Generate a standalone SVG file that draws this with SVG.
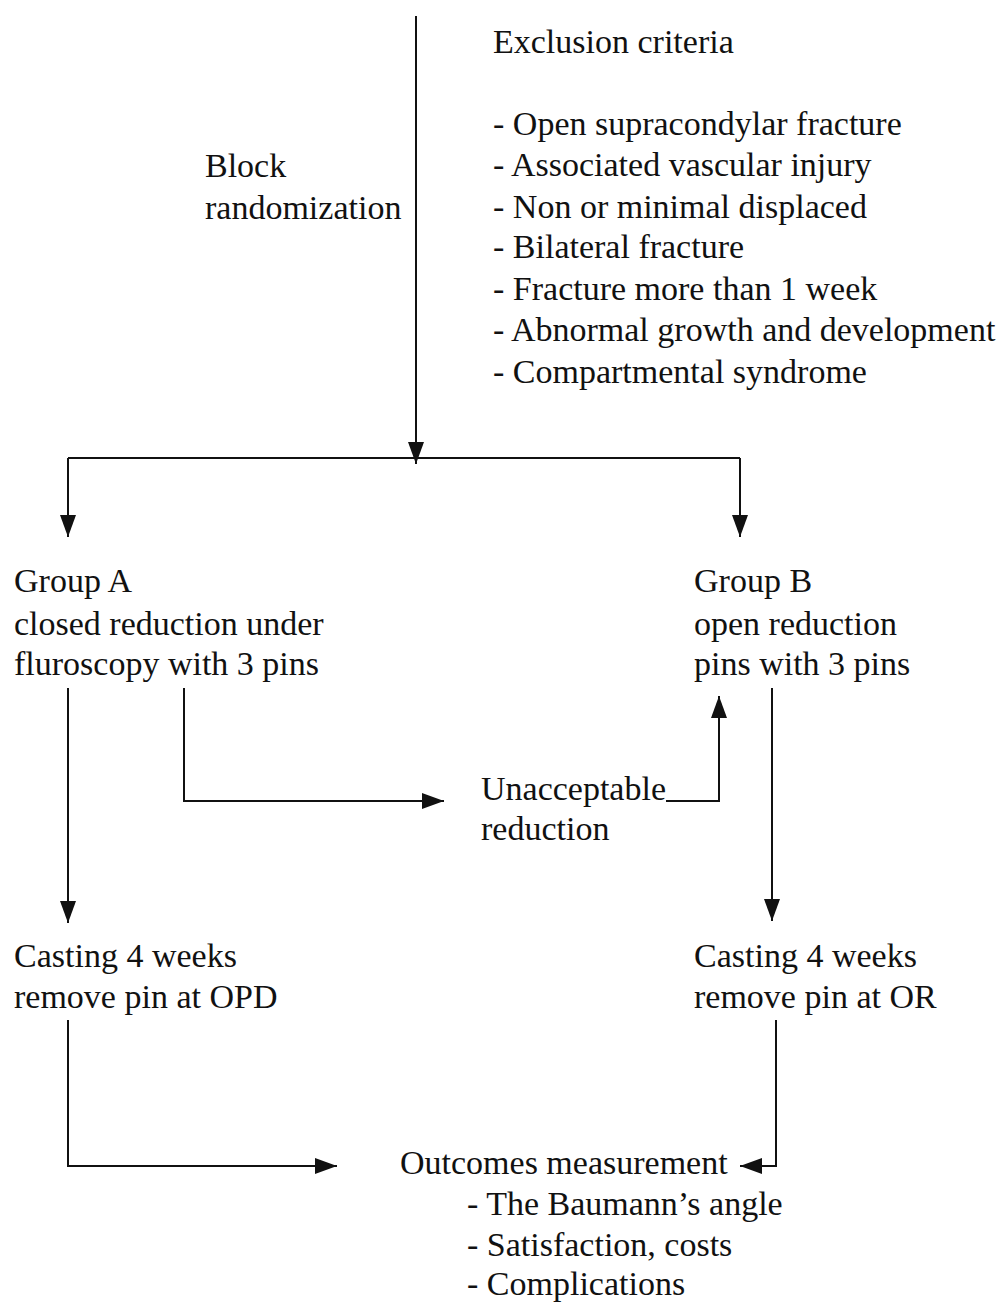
<svg xmlns="http://www.w3.org/2000/svg" width="1008" height="1302" viewBox="0 0 1008 1302">
<style>
text{font-family:"Liberation Serif","Times New Roman",serif;font-size:34px;fill:#111}
.ln{fill:none;stroke:#111;stroke-width:2}
</style>
<defs>
<marker id="ah" viewBox="0 0 22 16" refX="22" refY="8" markerWidth="22" markerHeight="16" markerUnits="userSpaceOnUse" orient="auto">
<path d="M0,0 L22,8 L0,16 Z" fill="#111"/>
</marker>
</defs>
<rect width="1008" height="1302" fill="#fff"/>
<g id="connectors">
<path class="ln" d="M416,16 V464" marker-end="url(#ah)"/>
<path class="ln" d="M68,458 H740"/>
<path class="ln" d="M68,458 V537" marker-end="url(#ah)"/>
<path class="ln" d="M740,458 V537" marker-end="url(#ah)"/>
<path class="ln" d="M184,688 V801 H444" marker-end="url(#ah)"/>
<path class="ln" d="M666,801 H719 V696" marker-end="url(#ah)"/>
<path class="ln" d="M68,688 V923" marker-end="url(#ah)"/>
<path class="ln" d="M772,688 V921" marker-end="url(#ah)"/>
<path class="ln" d="M68,1020 V1166 H337" marker-end="url(#ah)"/>
<path class="ln" d="M776,1020 V1166 H740" marker-end="url(#ah)"/>
</g>
<g id="exclusion">
<text x="493" y="53">Exclusion criteria</text>
<text x="493" y="135">- Open supracondylar fracture</text>
<text x="493" y="176">- Associated vascular injury</text>
<text x="493" y="218">- Non or minimal displaced</text>
<text x="493" y="258">- Bilateral fracture</text>
<text x="493" y="300">- Fracture more than 1 week</text>
<text x="493" y="341">- Abnormal growth and development</text>
<text x="493" y="383">- Compartmental syndrome</text>
</g>
<g id="randomization">
<text x="205" y="177">Block</text>
<text x="205" y="219">randomization</text>
</g>
<g id="groupA">
<text x="14" y="592">Group A</text>
<text x="14" y="635">closed reduction under</text>
<text x="14" y="675">fluroscopy with 3 pins</text>
</g>
<g id="groupB">
<text x="694" y="592">Group B</text>
<text x="694" y="635">open reduction</text>
<text x="694" y="675">pins with 3 pins</text>
</g>
<g id="unacceptable">
<text x="481" y="800">Unacceptable</text>
<text x="481" y="840">reduction</text>
</g>
<g id="castingA">
<text x="14" y="967">Casting 4 weeks</text>
<text x="14" y="1008">remove pin at OPD</text>
</g>
<g id="castingB">
<text x="694" y="967">Casting 4 weeks</text>
<text x="694" y="1008">remove pin at OR</text>
</g>
<g id="outcomes">
<text x="400" y="1174">Outcomes measurement</text>
<text x="467" y="1215">- The Baumann’s angle</text>
<text x="467" y="1256">- Satisfaction, costs</text>
<text x="467" y="1295">- Complications</text>
</g>
</svg>
